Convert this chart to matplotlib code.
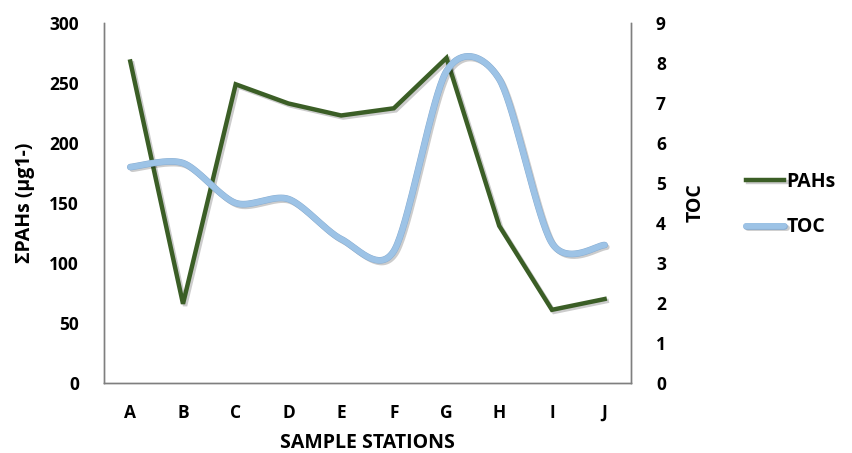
import numpy as np
import matplotlib
matplotlib.use("Agg")
import matplotlib.pyplot as plt
import matplotlib.patheffects as pe

plt.rcParams['font.family'] = ['Open Sans', 'DejaVu Sans']
plt.rcParams['font.weight'] = 'bold'

# data
stations = ['A', 'B', 'C', 'D', 'E', 'F', 'G', 'H', 'I', 'J']
pahs = [268, 66, 249, 233, 223, 229, 271, 131, 61, 70]
toc = [5.4, 5.5, 4.5, 4.6, 3.6, 3.3, 7.8, 7.6, 3.5, 3.45]


# Excel style smoothed line (bezier through the points)
def smooth(xs, ys, tension=1.0, n=40):
    xs = np.asarray(xs, float)
    ys = np.asarray(ys, float)
    px = np.concatenate([[xs[0]], xs, [xs[-1]]])
    py = np.concatenate([[ys[0]], ys, [ys[-1]]])
    outx, outy = [], []
    t = np.linspace(0, 1, n)
    for i in range(1, len(px) - 2):
        p0 = np.array([px[i], py[i]])
        p3 = np.array([px[i + 1], py[i + 1]])
        p1 = p0 + tension * (np.array([px[i + 1], py[i + 1]]) - np.array([px[i - 1], py[i - 1]])) / 6
        p2 = p3 - tension * (np.array([px[i + 2], py[i + 2]]) - np.array([px[i], py[i]])) / 6
        b = ((1 - t) ** 3)[:, None] * p0 + (3 * (1 - t) ** 2 * t)[:, None] * p1 \
            + (3 * (1 - t) * t ** 2)[:, None] * p2 + (t ** 3)[:, None] * p3
        outx.extend(b[:, 0])
        outy.extend(b[:, 1])
    return np.array(outx), np.array(outy)


x = np.arange(len(stations))

fig = plt.figure(figsize=(8.52, 4.53), dpi=100)
ax = fig.add_axes([0.122, 0.1545, 0.6186, 0.7945])
ax2 = ax.twinx()

shadow = [pe.SimpleLineShadow(offset=(1.5, -1.5), alpha=0.2), pe.Normal()]
ax.plot(x, pahs, color='#3b5e26', lw=3.2, solid_joinstyle='miter', path_effects=shadow,
        label='PAHs', zorder=3)

sx, sy = smooth(x, toc, tension=0.85)
ax2.plot(sx, sy, color='#9dc3e6', lw=4.2, solid_capstyle='round', label='TOC',
         path_effects=[pe.SimpleLineShadow(offset=(1.5, -1.5), alpha=0.2),
                       pe.Stroke(linewidth=4.8, foreground='#86abd0'), pe.Normal()])

ax.set_xlim(-0.5, 9.5)
ax.set_ylim(0, 300)
ax.set_yticks(range(0, 301, 50))
ax2.set_ylim(0, 9)
ax2.set_yticks(range(0, 10))
ax.set_xticks(x)
ax.set_xticklabels(stations)

for a in (ax, ax2):
    a.spines['top'].set_visible(False)
    for s in ('left', 'right', 'bottom'):
        a.spines[s].set_color('#7f7f7f')
        a.spines[s].set_linewidth(1.0)
    a.tick_params(length=0, labelsize=12.5)

ax.tick_params(axis='y', pad=18)
ax.tick_params(axis='x', pad=15)
ax2.tick_params(axis='y', pad=18)

ax.set_xlabel('SAMPLE STATIONS', fontsize=14, fontweight='bold', labelpad=8)
ax.set_ylabel('ΣPAHs (µg1-)', fontsize=14, fontweight='bold', labelpad=10)
ax2.set_ylabel('TOC', fontsize=14, fontweight='bold', labelpad=14)

h1, l1 = ax.get_legend_handles_labels()
h2, l2 = ax2.get_legend_handles_labels()
leg = fig.legend(h1 + h2, l1 + l2, loc='center left', bbox_to_anchor=(0.866, 0.548),
                 frameon=False, fontsize=14, handlelength=2.0, handletextpad=0.1,
                 labelspacing=1.3, borderaxespad=0)
for t in leg.get_texts():
    t.set_fontweight('bold')

fig.savefig('out.png', dpi=100)
